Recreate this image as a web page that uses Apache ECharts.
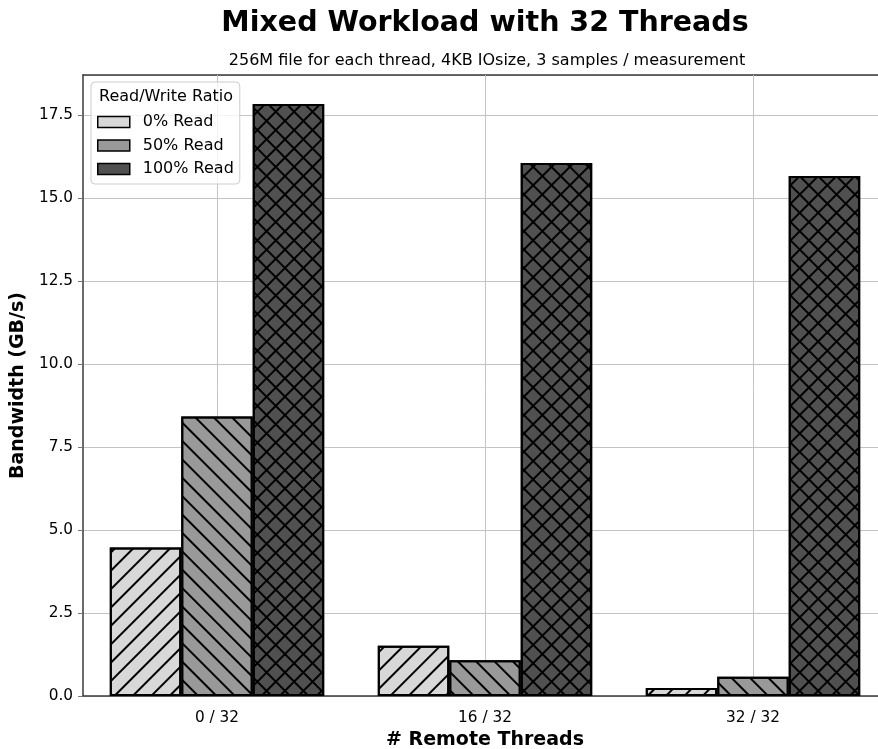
<!DOCTYPE html>
<html>
<head>
<meta charset="utf-8">
<script src="https://cdn.jsdelivr.net/npm/echarts@6/dist/echarts.min.js"></script>
<style>html,body{margin:0;padding:0;background:#fff}#c{width:878px;height:749px}</style>
</head>
<body>
<div id="c"></div>
<script>
const categories = ['0 / 32', '16 / 32', '32 / 32'];
const seriesNames = ['0% Read', '50% Read', '100% Read'];
const read0 = [4.47, 1.51, 0.24];
const read50 = [8.42, 1.08, 0.58];
const read100 = [17.83, 16.05, 15.66];
const yTicks = [0, 2.5, 5, 7.5, 10, 12.5, 15, 17.5];

const FONT = 'DejaVu Sans';
const colors = ['#d8d8d8', '#999999', '#505050'];
const spine = '#3a3a3a';
const gridColor = '#c4c4c4';

const hatchSlash = {symbol:'rect', symbolSize:1, color:'#000', dashArrayX:[13,0], dashArrayY:[2,11], rotation:-Math.PI/4};
const hatchBack = {symbol:'rect', symbolSize:1, color:'#000', dashArrayX:[13,0], dashArrayY:[2,11], rotation:Math.PI/4};
const hatchCross = {symbol:'rect', symbolSize:1, color:'#000', dashArrayX:[[13,0],[2,11]], dashArrayY:[2,0,11,0], rotation:Math.PI/4};
const decals = [hatchSlash, hatchBack, hatchCross];
const values = [read0, read50, read100];

const chart = echarts.init(document.getElementById('c'), null, {renderer:'canvas'});

const series = seriesNames.map((name, i) => ({
  name: name,
  type: 'bar',
  xAxisIndex: 0, yAxisIndex: 0,
  data: values[i],
  barGap: '0%',
  barCategoryGap: '20%',
  z: 3,
  itemStyle: {color: colors[i], borderColor: '#000', borderWidth: 2, decal: decals[i]},
  emphasis: {disabled: true},
  markLine: i === 1 ? {
    silent: true, symbol: 'none', z: 1, animation: false,
    label: {show: false},
    lineStyle: {color: gridColor, width: 1, type: 'solid'},
    data: categories.map(c => ({xAxis: c}))
  } : undefined
}));

chart.setOption({
  animation: false,
  textStyle: {fontFamily: FONT},
  title: [
    {text: 'Mixed Workload with 32 Threads', left: 485, top: 9, textAlign: 'center', padding: 0,
     textStyle: {fontFamily: FONT, fontSize: 28.5, fontWeight: 'bold', color: '#000'}},
    {text: '256M file for each thread, 4KB IOsize, 3 samples / measurement', left: 487, top: 53, textAlign: 'center', padding: 0,
     textStyle: {fontFamily: FONT, fontSize: 16, fontWeight: 'normal', color: '#000'}},
    {text: 'Read/Write Ratio', left: 99, top: 89, padding: 0, z: 20,
     textStyle: {fontFamily: FONT, fontSize: 16, fontWeight: 'normal', color: '#000'}}
  ],
  legend: {
    orient: 'vertical', left: 91, top: 82,
    data: seriesNames,
    itemWidth: 32, itemHeight: 11, itemGap: 4.5,
    padding: [30.5, 6, 5.5, 6],
    backgroundColor: 'rgba(255,255,255,0.8)',
    borderColor: '#cccccc', borderWidth: 1, borderRadius: 4,
    z: 10,
    icon: 'rect',
    itemStyle: {decal: 'none', borderColor: '#000', borderWidth: 1.5},
    textStyle: {fontFamily: FONT, fontSize: 16, color: '#000', lineHeight: 19, padding: [0, 0, 0, 8]},
    selectedMode: false
  },
  grid: {left: 83, right: -9, top: 75, bottom: 53, containLabel: false, outerBoundsMode: 'none'},
  xAxis: [
    {type: 'category', data: categories, position: 'bottom',
     name: '# Remote Threads', nameLocation: 'middle', nameGap: 34,
     nameTextStyle: {fontFamily: FONT, fontSize: 19, fontWeight: 'bold', color: '#000'},
     axisLine: {lineStyle: {color: spine, width: 1.5}},
     axisTick: {alignWithLabel: true, length: 5, lineStyle: {color: '#777'}},
     axisLabel: {fontFamily: FONT, fontSize: 15.3, color: '#000', margin: 15},
     splitLine: {show: false}},
    {type: 'category', data: categories, position: 'top',
     axisLine: {lineStyle: {color: spine, width: 1.5}},
     axisTick: {show: false}, axisLabel: {show: false}, splitLine: {show: false}}
  ],
  yAxis: [
    {type: 'value', min: 0, max: 18.7, interval: 2.5,
     name: 'Bandwidth (GB/s)', nameLocation: 'middle', nameGap: 52,
     nameTextStyle: {fontFamily: FONT, fontSize: 19, fontWeight: 'bold', color: '#000'},
     axisLine: {show: true, lineStyle: {color: spine, width: 1.5}},
     axisTick: {show: true, length: 5, lineStyle: {color: '#777'}},
     axisLabel: {fontFamily: FONT, fontSize: 15.3, color: '#000', margin: 10, showMaxLabel: false,
                 formatter: v => yTicks.includes(v) ? v.toFixed(1) : ''},
     splitLine: {show: true, lineStyle: {color: gridColor, width: 1}}}
  ],
  series: series
});
</script>
</body>
</html>
